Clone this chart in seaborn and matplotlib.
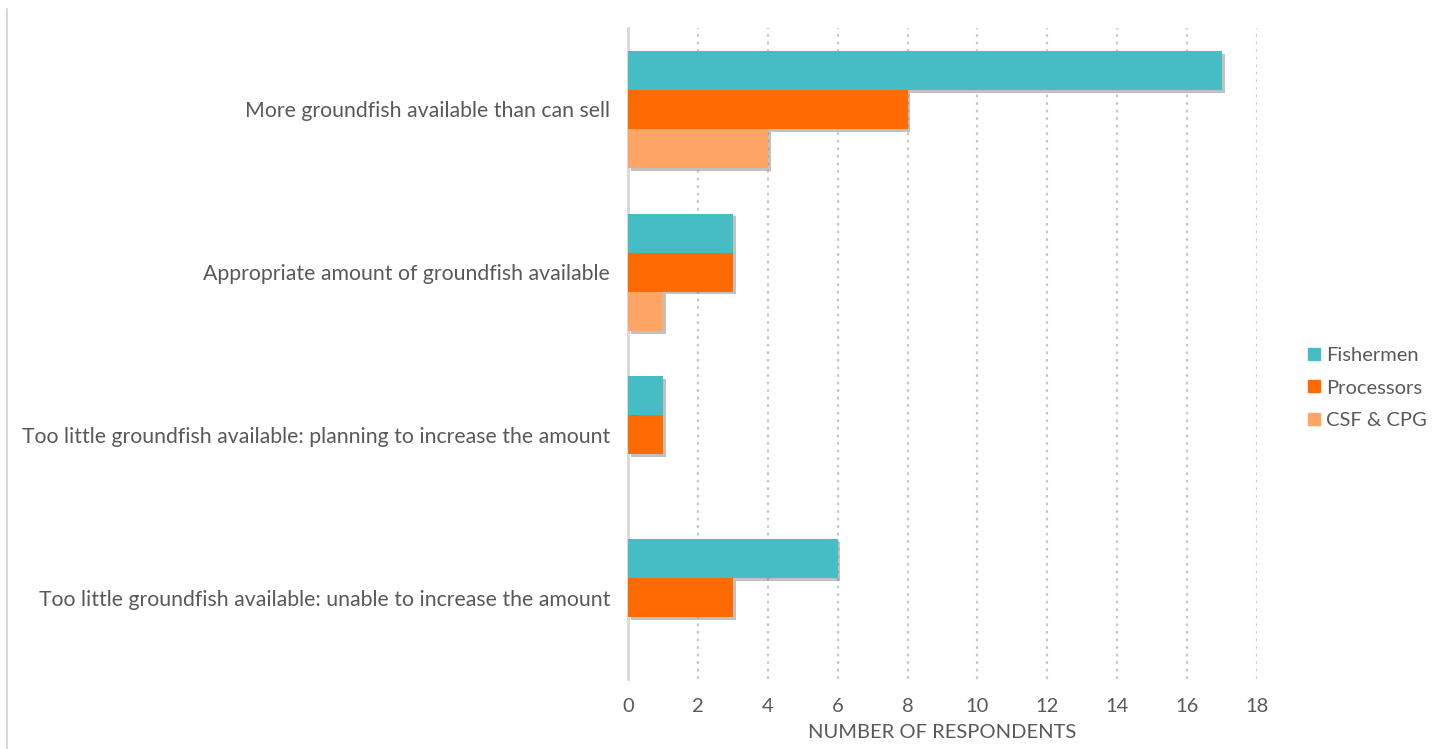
import pandas as pd
import matplotlib.pyplot as plt
import matplotlib.patheffects as pe
from matplotlib.lines import Line2D
import seaborn as sns

# 数据
categories = [
    'More groundfish available than can sell',
    'Appropriate amount of groundfish available',
    'Too little groundfish available: planning to increase the amount',
    'Too little groundfish available: unable to increase the amount',
]
series = ['Fishermen', 'Processors', 'CSF & CPG']
fishermen = [17, 3, 1, 6]
processors = [8, 3, 1, 3]
csf_cpg = [4, 1, 0, 0]
x_ticks = [0, 2, 4, 6, 8, 10, 12, 14, 16, 18]

colors = ['#46BCC5', '#FF6B00', '#FFA566']
text_color = '#595959'

df = pd.DataFrame({
    'category': categories * 3,
    'group': [s for s in series for _ in categories],
    'value': fishermen + processors + csf_cpg,
})

sns.set_style('white')
plt.rcParams['font.family'] = ['Lato', 'DejaVu Sans']

fig = plt.figure(figsize=(14.37, 7.49), dpi=100)
ax = fig.add_axes([0.437, 0.0935, 0.4378, 0.869])

sns.barplot(data=df, x='value', y='category', hue='group', order=categories,
            hue_order=series, palette=colors, orient='h', width=0.72,
            saturation=1, linewidth=0, ax=ax, zorder=3)

# 柱子阴影（零值柱不画）
for p in ax.patches:
    if p.get_width() > 0:
        p.set_path_effects([pe.SimplePatchShadow(offset=(2, -2), shadow_rgbFace='#666666', alpha=0.4),
                            pe.Normal()])
    else:
        p.set_visible(False)

ax.set_xlim(0, 18)
ax.set_xticks(x_ticks)
ax.set_xticklabels([str(t) for t in x_ticks])
for t in x_ticks[1:]:
    ax.axvline(t, color='#c8c8c8', linestyle=(0, (1.2, 2.2)), linewidth=1.6, zorder=0)

for s in ['top', 'right', 'bottom']:
    ax.spines[s].set_visible(False)
ax.spines['left'].set_color('#d6d6d6')
ax.spines['left'].set_linewidth(2)

ax.tick_params(axis='x', length=0, labelsize=14.5, colors=text_color, pad=14)
ax.tick_params(axis='y', length=0, labelsize=15.3, colors=text_color, pad=13)
ax.set_ylabel('')
ax.set_xlabel('NUMBER OF RESPONDENTS', fontsize=14.5, color=text_color, labelpad=6)

handles = [Line2D([], [], marker='s', linestyle='', markersize=9, color=c) for c in colors]
ax.legend(handles, series, frameon=False, loc='center left',
          bbox_to_anchor=(0.896, 0.482), bbox_transform=fig.transFigure,
          fontsize=14.5, labelcolor=text_color, handletextpad=0.2, labelspacing=0.75,
          handlelength=0.8)

# 左侧边框线
fig.add_artist(Line2D([0.005, 0.005], [0.0, 0.988], transform=fig.transFigure,
                      color='#d9d9d9', linewidth=1.5))

fig.savefig('out.png', dpi=100, facecolor='white')
